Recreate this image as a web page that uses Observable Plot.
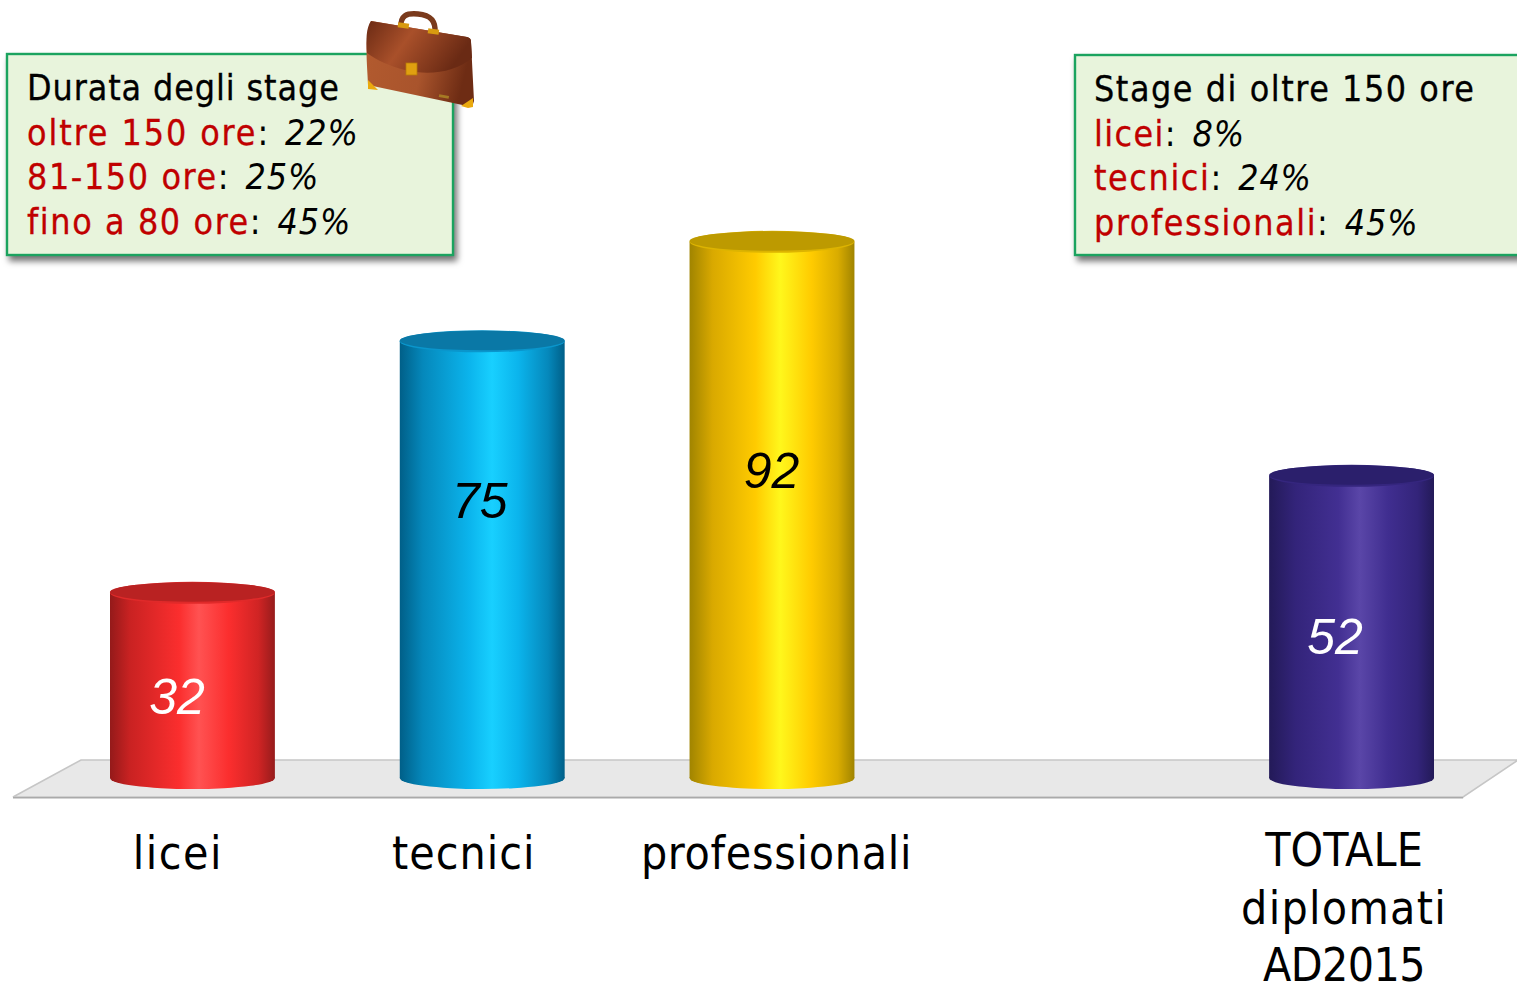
<!DOCTYPE html>
<html lang="it">
<head>
<meta charset="utf-8">
<title>Durata degli stage</title>
<style>
html,body{margin:0;padding:0;background:#fff;overflow:hidden}
svg{display:block}
</style>
<script src="https://cdn.jsdelivr.net/npm/d3@7"></script>
<script src="https://cdn.jsdelivr.net/npm/@observablehq/plot@0.6"></script>
</head>
<body>
<div id="chart"></div>
<script>
const categories = ["licei", "tecnici", "professionali", " ", "TOTALE\ndiplomati\nAD2015"];
const barCategories = ["licei", "tecnici", "professionali", "TOTALE\ndiplomati\nAD2015"];
const barValues = [32, 75, 92, 52];

const leftTitle = "Durata degli stage";
const leftLabels = ["oltre 150 ore", "81-150 ore", "fino a 80 ore"];
const leftValues = ["22%", "25%", "45%"];
const rightTitle = "Stage di oltre 150 ore";
const rightLabels = ["licei", "tecnici", "professionali"];
const rightValues = ["8%", "24%", "45%"];

const SANS = "'DejaVu Sans Condensed','DejaVu Sans',sans-serif";
const ITALIC = "'Liberation Sans',Arial,sans-serif";
const svgNS = "http://www.w3.org/2000/svg";

const gradients = [
  {top:"#b92222", rim:"#e02a2a", stops:[[0,"#941a1a"],[.12,"#c92222"],[.42,"#fb2e2e"],[.54,"#ff5252"],[.72,"#fb2e2e"],[.9,"#d02424"],[1,"#961c1c"]]},
  {top:"#0a78a6", rim:"#0a96cc", stops:[[0,"#005f88"],[.14,"#0588bb"],[.42,"#0bb4ec"],[.56,"#18d0ff"],[.72,"#0bb4ec"],[.9,"#0588bb"],[1,"#005f88"]]},
  {top:"#bd9a00", rim:"#ddb400", stops:[[0,"#a08400"],[.14,"#d9a900"],[.4,"#ffcb00"],[.55,"#fff71c"],[.74,"#ffcb00"],[.9,"#d9ac00"],[1,"#a08400"]]},
  {top:"#2b1f6c", rim:"#35267e", stops:[[0,"#231a58"],[.16,"#33247a"],[.42,"#422f92"],[.55,"#5a46a8"],[.72,"#402e90"],[.9,"#33247a"],[1,"#231a58"]]}
];

function el(name, attrs, parent) {
  const n = document.createElementNS(svgNS, name);
  for (const k in attrs) n.setAttribute(k, attrs[k]);
  if (parent) parent.appendChild(n);
  return n;
}

// gradient defs + floor, placed from the scales
function floorMark(index, {x, y}) {
  const g = el("g", {});
  const defs = el("defs", {}, g);
  gradients.forEach((c, i) => {
    const lg = el("linearGradient", {id:"cyl"+i, x1:0, x2:1, y1:0, y2:0}, defs);
    c.stops.forEach(([o, col]) => el("stop", {offset:o, "stop-color":col}, lg));
  });
  const x0 = x(barCategories[0]), x1 = x(barCategories[3]) + 165, y0 = y(0);
  el("path", {
    d:`M${x0-97},${y0+17}L${x0-29},${y0-20}L${x1+84},${y0-20}L${x1+29},${y0+17}Z`,
    fill:"#e8e8e8", stroke:"#c6c6c6", "stroke-width":1.6
  }, g);
  el("path", {d:`M${x0-97},${y0+17.8}H${x1+29}`, stroke:"#aaaaaa", "stroke-width":1.6, fill:"none"}, g);
  return g;
}

// the bar plus the two ellipses that make it a cylinder
function cylinder(i) {
  return function (index, scales, values, dims, ctx, next) {
    const g = next(index, scales, values, dims, ctx);
    const r = g.querySelector("rect");
    const bx = +r.getAttribute("x"), bw = +r.getAttribute("width");
    const by = +r.getAttribute("y"), bh = +r.getAttribute("height");
    const cx = bx + bw / 2, c = gradients[i];
    const base = el("ellipse", {cx, cy:by+bh-2, rx:bw/2, ry:11, fill:`url(#cyl${i})`});
    g.insertBefore(base, r);
    r.setAttribute("height", bh - 2);
    el("ellipse", {cx, cy:by, rx:bw/2, ry:11, fill:c.rim}, g);
    el("ellipse", {cx, cy:by-0.8, rx:bw/2, ry:9.8, fill:c.top}, g);
    return g;
  };
}

function noteBox(title, labels, vals, bx, by, bw, bh, tx, titleSpacing, labelSpacing) {
  return function () {
    const g = el("g", {"text-anchor":"start", "letter-spacing":0.9});
    el("rect", {x:bx, y:by, width:bw, height:bh, fill:"#e8f4dc", stroke:"#1ba35f", "stroke-width":2.4,
      style:"filter:drop-shadow(3px 5px 3px rgba(0,0,0,.55))"}, g);
    const base = by + 46;
    const t = el("text", {x:tx, y:base, "font-family":SANS, "font-size":35.5, fill:"#000", stroke:"#000", "stroke-width":0.3, "letter-spacing":titleSpacing}, g);
    t.textContent = title;
    labels.forEach((lab, i) => {
      const line = el("text", {x:tx, y:base + 44.6*(i+1), "font-family":SANS, "font-size":35.5, fill:"#000"}, g);
      const a = el("tspan", {fill:"#c00000", stroke:"#c00000", "stroke-width":0.3, "letter-spacing":labelSpacing[i]}, line); a.textContent = lab;
      const b = el("tspan", {}, line); b.textContent = ":";
      const v = el("tspan", {dx:16, "font-style":"italic"}, line); v.textContent = vals[i];
    });
    return g;
  };
}

function briefcase() {
  const g = el("g", {style:"filter:blur(0.5px)"});
  const defs = el("defs", {}, g);
  const lg = el("linearGradient", {id:"leather", x1:0, x2:1, y1:0, y2:0.35}, defs);
  [[0,"#6b2a14"],[.45,"#a9502a"],[1,"#6a2a14"]].forEach(([o,c]) => el("stop",{offset:o,"stop-color":c},lg));
  const lf = el("linearGradient", {id:"front", x1:0, x2:1, y1:0, y2:0.2}, defs);
  [[0,"#b35b2f"],[.6,"#a9542c"],[1,"#6e2c14"]].forEach(([o,c]) => el("stop",{offset:o,"stop-color":c},lf));
  el("path",{d:"M401,28C400,15 407,13 418,14C430,15 436,20 435,33",fill:"none",stroke:"#7a3a1c","stroke-width":5.5},g);
  el("path",{d:"M371,21L467,37C470,38 471,39 471,42L474,101L472,107L368,85C367,60 364,40 371,21Z",fill:"url(#front)"},g);
  el("path",{d:"M371,21L467,37C470,38 471,39 471,42L472,58C455,72 430,76 405,70C390,66 376,60 367,53C366,40 366,28 371,21Z",fill:"url(#leather)"},g);
  el("rect",{x:398,y:23,width:11,height:5,fill:"#d89a10",transform:"rotate(8 403 25)"},g);
  el("rect",{x:428,y:29,width:11,height:5,fill:"#d89a10",transform:"rotate(8 433 31)"},g);
  el("rect",{x:406,y:63,width:11,height:12,fill:"#e0a010",stroke:"#b87a08","stroke-width":.8},g);
  el("path",{d:"M368,80L368,89L378,90Z",fill:"#eaa90e"},g);
  el("path",{d:"M461,106L473,98L473,107L468,108Z",fill:"#eaa90e"},g);
  el("rect",{x:439,y:95,width:10,height:3,fill:"#a67a24",transform:"rotate(10 444 96)"},g);
  return g;
}

// hand-placed offsets of the picture's labels relative to their bars: dx, dy, letter spacing per line
const labelShift = [[-15, 71, [1.5]], [-19, 71, [1]], [4, 71, [0.7]], [-8, 68, [0.1, 1.3, -0.6]]];
const valueShift = [[-16, 105, "#fff"], [-3, 160, "#000"], [-1, 230, "#000"], [-17, 162, "#fff"]];

function spaced(v) {
  return function (index, scales, values, dims, ctx, next) {
    const g = next(index, scales, values, dims, ctx);
    const tspans = g.querySelectorAll("tspan");
    if (tspans.length) tspans.forEach((t, i) => t.setAttribute("letter-spacing", v[i] ?? v[0]));
    else g.setAttribute("letter-spacing", v[0]);
    return g;
  };
}

const chart = Plot.plot({
  width: 1517,
  height: 983,
  marginTop: 0, marginRight: 0, marginBottom: 0, marginLeft: 0,
  style: {background: "#fff", overflow: "visible"},
  x: {type: "band", domain: categories, range: [110, 1434], paddingInner: 0.431, paddingOuter: 0, round: false, axis: null},
  y: {domain: [0, 100], range: [780, 195], axis: null},
  marks: [
    floorMark,
    ...barCategories.map((c, i) =>
      Plot.barY([barValues[i]], {x: () => c, y: d => d, fill: `url(#cyl${i})`, inset: 0, render: cylinder(i)})
    ),
    ...barCategories.map((c, i) =>
      Plot.text([barValues[i]], {x: () => c, y: d => d, text: d => String(d), dx: valueShift[i][0], dy: valueShift[i][1],
        fill: valueShift[i][2], fontSize: 50, fontStyle: "italic", fontFamily: ITALIC, lineAnchor: "middle"})
    ),
    ...barCategories.map((c, i) =>
      Plot.text([c], {x: d => d, y: () => 0, text: d => d, dx: labelShift[i][0], dy: labelShift[i][1] - 23,
        fill: "#000", fontSize: 46, fontFamily: SANS, lineAnchor: "top", lineHeight: 1.25, render: spaced(labelShift[i][2])})
    ),
    noteBox(leftTitle, leftLabels, leftValues, 7, 54, 446, 201, 27, 0.9, [1.9, 1.6, 1.6]),
    noteBox(rightTitle, rightLabels, rightValues, 1075, 55, 450, 200, 1094, 1.55, [1.4, 1.6, 1.6]),
    briefcase
  ]
});
document.getElementById("chart").appendChild(chart);
</script>
</body>
</html>
